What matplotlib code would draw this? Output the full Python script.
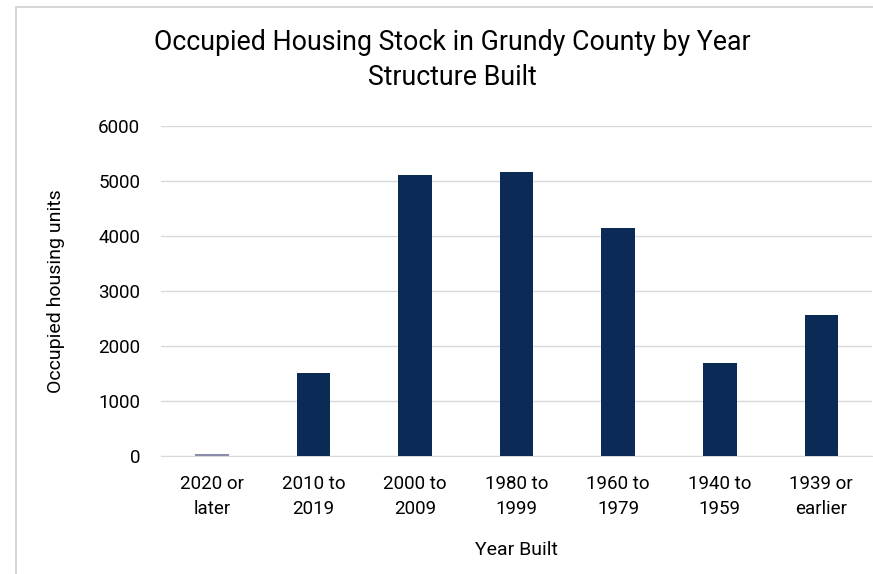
import matplotlib.pyplot as plt
from matplotlib.patches import Rectangle

plt.rcParams['font.family'] = ['Roboto', 'DejaVu Sans']

categorias = ['2020 or\nlater', '2010 to\n2019', '2000 to\n2009', '1980 to\n1999',
              '1960 to\n1979', '1940 to\n1959', '1939 or\nearlier']
unidades = [40, 1510, 5100, 5170, 4150, 1690, 2560]
yticks = [0, 1000, 2000, 3000, 4000, 5000, 6000]

fig = plt.figure(figsize=(8.73, 5.74), dpi=100)
ax = fig.add_axes([0.1844, 0.2056, 0.8146, 0.5749])

cores = ['#8c8cab'] + ['#0b2a55'] * (len(unidades) - 1)
ax.bar(range(len(categorias)), unidades, width=0.33, color=cores, zorder=3)

ax.set_xlim(-0.5, len(categorias) - 0.5)
ax.set_ylim(0, 6000)
ax.set_yticks(yticks)
ax.set_xticks(range(len(categorias)))
ax.set_xticklabels(categorias, fontsize=13.5, linespacing=1.45)
ax.tick_params(axis='y', labelsize=13.5, length=0, pad=15)
ax.tick_params(axis='x', length=0, pad=14)
ax.grid(axis='y', color='#d9d9d9', linewidth=1, zorder=0)

for lado in ['top', 'right', 'left']:
    ax.spines[lado].set_visible(False)
ax.spines['bottom'].set_color('#d9d9d9')

ax.set_ylabel('Occupied housing units', fontsize=14, labelpad=24)
ax.set_xlabel('Year Built', fontsize=14, labelpad=17)

fig.text(0.518, 0.895, 'Occupied Housing Stock in Grundy County by Year\nStructure Built',
         ha='center', va='center', fontsize=19.3, linespacing=1.4)

# moldura
fig.patches.append(Rectangle((0.018, -0.01), 1.0, 0.998, transform=fig.transFigure,
                             fill=False, edgecolor='#d0d0d0', linewidth=1.2))

fig.savefig('out.png', dpi=100)
